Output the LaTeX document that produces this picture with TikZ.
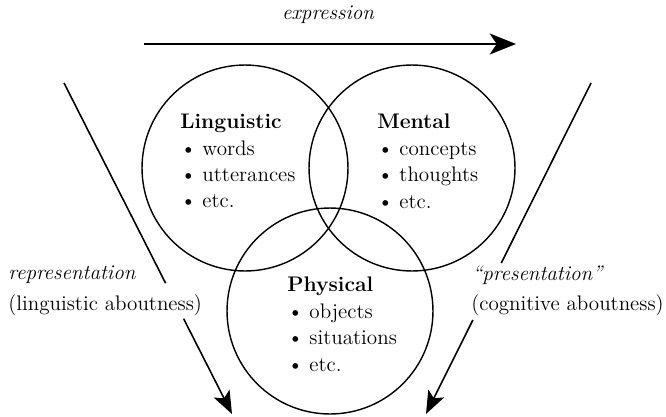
\documentclass[tikz,border=0pt]{standalone}
\usepackage{amssymb,amsmath}
\usetikzlibrary{arrows.meta,calc}

\begin{document}
\begin{tikzpicture}[x=0.02cm,y=-0.02cm,
  realm/.style={circle,draw,line width=0.8pt,minimum size=4.12cm,inner sep=0pt},
  list/.style={anchor=north west,align=left,inner sep=0pt,font=\large},
  lbl/.style={anchor=west,inner sep=0pt,font=\large},
  arr/.style={line width=0.9pt,-{Stealth[length=13pt,width=10pt,inset=3pt]}}]
\useasboundingbox (0,0) rectangle (666,416);

\node[realm] (ling) at (245,168) {};
\node[realm] (ment) at (412,168) {};
\node[realm] (phys) at (330,311) {};

\node[list] (lingtxt) at (180,114) {\textbf{Linguistic}\\[1pt]
  \makebox[1.05em][l]{\textbullet}words\\[1pt]
  \makebox[1.05em][l]{\textbullet}utterances\\[1pt]
  \makebox[1.05em][l]{\textbullet}etc.};
\node[list] (menttxt) at (377,114) {\textbf{Mental}\\[1pt]
  \makebox[1.05em][l]{\textbullet}concepts\\[1pt]
  \makebox[1.05em][l]{\textbullet}thoughts\\[1pt]
  \makebox[1.05em][l]{\textbullet}etc.};
\node[list] (phystxt) at (287,277) {\textbf{Physical}\\[1pt]
  \makebox[1.05em][l]{\textbullet}objects\\[1pt]
  \makebox[1.05em][l]{\textbullet}situations\\[1pt]
  \makebox[1.05em][l]{\textbullet}etc.};

% expression
\node[font=\large\itshape,inner sep=0pt] (expr) at (328,15) {expression};
\coordinate (exA) at (144,44);
\coordinate (exB) at (516,44);
\draw[line width=0.9pt,-{Stealth[length=15pt,width=12pt,inset=4pt]}] (exA) -- (exB);

% representation
\node[lbl] (repr) at (8,275) {\textit{representation}};
\node[lbl] (lingab) at (8,305) {(linguistic aboutness)};
\coordinate (repA) at (64,83);
\coordinate (repB) at (232,414);
\draw[line width=0.9pt] (repA) -- ($(repA)!0.605!(repB)$);
\draw[arr] ($(repA)!0.712!(repB)$) -- (repB);

% presentation
\node[lbl] (pres) at (472,275) {\textit{``presentation''}};
\node[lbl] (cogab) at (471,305) {(cognitive aboutness)};
\coordinate (preA) at (591,83);
\coordinate (preB) at (426,414);
\draw[line width=0.9pt] (preA) -- ($(preA)!0.544!(preB)$);
\draw[arr] ($(preA)!0.716!(preB)$) -- (preB);
\end{tikzpicture}
\end{document}
